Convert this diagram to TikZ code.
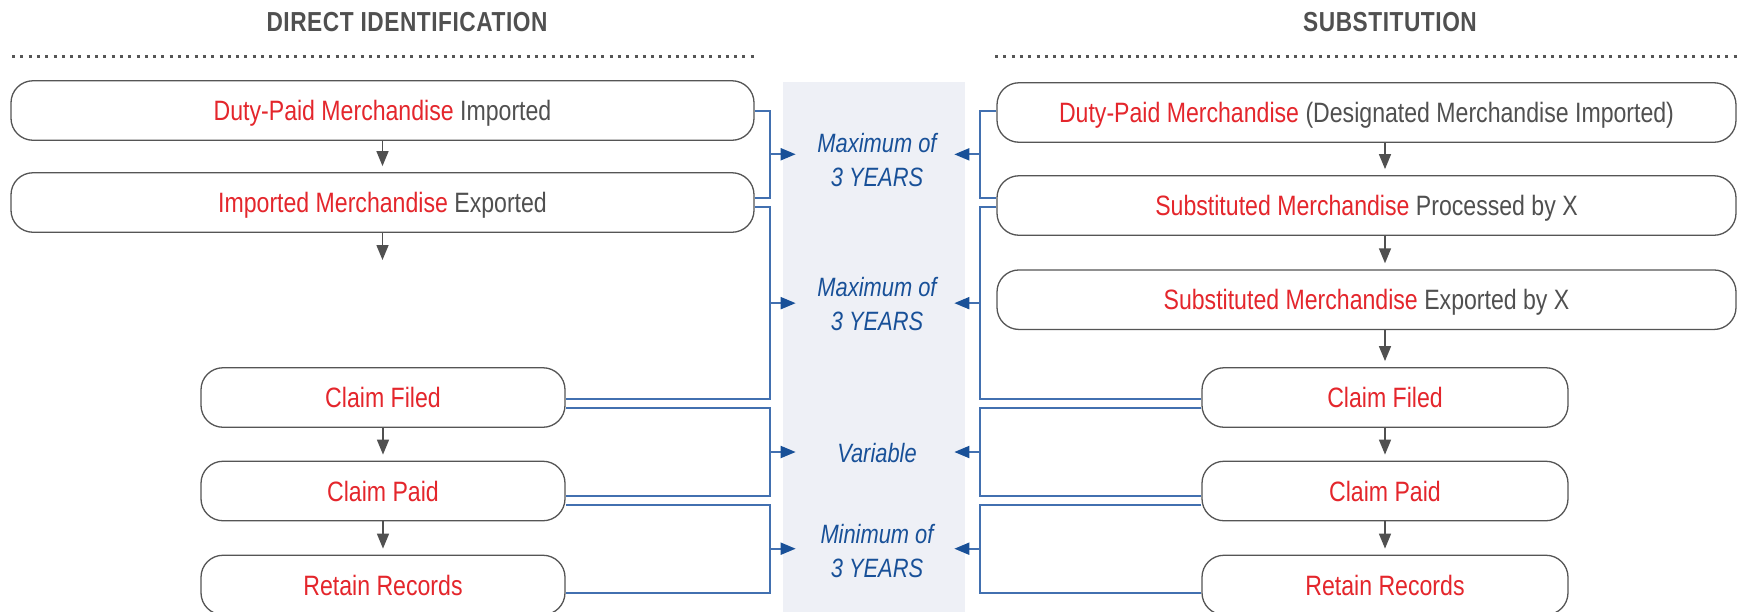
\documentclass[tikz,border=0pt]{standalone}
\usepackage{fontspec}
\setmainfont{Liberation Sans}[FakeStretch=0.825]
\usetikzlibrary{arrows.meta}

\definecolor{keyred}{RGB}{228,38,44}
\definecolor{inkgray}{RGB}{80,80,80}
\definecolor{rulegray}{RGB}{85,85,85}
\definecolor{panelgray}{RGB}{238,240,246}
\definecolor{linkblue}{RGB}{66,112,176}
\definecolor{spanblue}{RGB}{24,80,152}

\newcommand{\redpart}[1]{\textcolor{keyred}{#1}}

\tikzset{
  stepbox/.style={draw=rulegray, line width=1.3pt, fill=white, rounded corners=22pt,
    minimum height=59.5pt, inner sep=0pt, text height=20pt, text depth=0pt,
    text=inkgray, font=\fontsize{28}{30}\selectfont},
  flow/.style={draw=inkgray, line width=1.5pt, -{Triangle[length=15pt,width=12pt]}, shorten >=6pt},
  bracket/.style={draw=linkblue, line width=2pt},
  spanarrow/.style={draw=linkblue, line width=2pt, -{Triangle[length=15pt,width=12pt,color=spanblue]}},
  spanlabel/.style={text=spanblue, align=center, font=\fontsize{26.5}{34}\selectfont\itshape},
  heading/.style={text=inkgray, font=\fontsize{27.5}{30}\selectfont\bfseries\addfontfeatures{LetterSpace=2}},
  dotrule/.style={draw=rulegray, line width=3pt, dash pattern=on 3pt off 5.3pt}
}

\begin{document}
\begin{tikzpicture}[x=1pt, y=-1pt]
    \useasboundingbox (0,0) rectangle (1738,611);

    % Time band in the middle
    \fill[panelgray] (783,82) rectangle (965,620);

    % Headings
    \node[heading] (dihead) at (407,22) {DIRECT IDENTIFICATION};
    \node[heading] (subhead) at (1390,22) {SUBSTITUTION};
    \draw[dotrule] (12,56) -- (757,56);
    \draw[dotrule] (995,56) -- (1740,56);

    % Direct identification column
    \node[stepbox, minimum width=743pt] (dimp) at (382.5,110.5) {\redpart{Duty-Paid Merchandise} Imported};
    \node[stepbox, minimum width=743pt] (dexp) at (382.5,202.5) {\redpart{Imported Merchandise} Exported};
    \coordinate (dgap) at (382.5,266);
    \node[stepbox, minimum width=364pt] (dfiled) at (383,397.5) {\redpart{Claim Filed}};
    \node[stepbox, minimum width=364pt] (dpaid) at (383,491) {\redpart{Claim Paid}};
    \node[stepbox, minimum width=364pt] (dkeep) at (383,585) {\redpart{Retain Records}};

    \draw[flow] (dimp) -- (dexp);
    \draw[flow] (dexp) -- (dgap);
    \draw[flow] (dfiled) -- (dpaid);
    \draw[flow] (dpaid) -- (dkeep);

    % Substitution column
    \node[stepbox, minimum width=739pt] (simp) at (1366.5,112.5) {\redpart{Duty-Paid Merchandise} (Designated Merchandise Imported)};
    \node[stepbox, minimum width=739pt] (sproc) at (1366.5,205.5) {\redpart{Substituted Merchandise} Processed by X};
    \node[stepbox, minimum width=739pt] (sexp) at (1366.5,299.7) {\redpart{Substituted Merchandise} Exported by X};
    \node[stepbox, minimum width=366pt] (sfiled) at (1385,397.5) {\redpart{Claim Filed}};
    \node[stepbox, minimum width=366pt] (spaid) at (1385,491) {\redpart{Claim Paid}};
    \node[stepbox, minimum width=366pt] (skeep) at (1385,585) {\redpart{Retain Records}};

    \draw[flow] (simp.south -| sfiled) -- (sproc.north -| sfiled);
    \draw[flow] (sproc.south -| sfiled) -- (sexp.north -| sfiled);
    \draw[flow] (sexp.south -| sfiled) -- (sfiled);
    \draw[flow] (sfiled) -- (spaid);
    \draw[flow] (spaid) -- (skeep);

    % Brackets on the left
    \draw[bracket] (dimp.east) -- ++(15,0) |- ([yshift=4.5pt]dexp.east) coordinate[pos=0.25] (lja);
    \draw[bracket] ([yshift=-4.5pt]dexp.east) -- ++(15,0) |- ([yshift=-1.8pt]dfiled.east) coordinate[pos=0.25] (ljb);
    \draw[bracket] ([yshift=-10.8pt]dfiled.east) -- ++(204,0) |- ([yshift=-4.7pt]dpaid.east) coordinate[pos=0.25] (ljc);
    \draw[bracket] ([yshift=-13.7pt]dpaid.east) -- ++(204,0) |- ([yshift=-7.7pt]dkeep.east) coordinate[pos=0.25] (ljd);

    % Brackets on the right
    \draw[bracket] ([yshift=1.8pt]simp.west) -- ++(-16,0) |- ([yshift=7.5pt]sproc.west) coordinate[pos=0.25] (rja);
    \draw[bracket] ([yshift=-1.5pt]sproc.west) -- ++(-16,0) |- ([yshift=-1.8pt]sfiled.west) coordinate[pos=0.25] (rjb);
    \draw[bracket] ([yshift=-10.8pt]sfiled.west) -- ++(-221,0) |- ([yshift=-4.7pt]spaid.west) coordinate[pos=0.25] (rjc);
    \draw[bracket] ([yshift=-13.7pt]spaid.west) -- ++(-221,0) |- ([yshift=-7.7pt]skeep.west) coordinate[pos=0.25] (rjd);

    % Time spans
    \node[spanlabel] (spana) at (877,160) {Maximum of\\3 YEARS};
    \node[spanlabel] (spanb) at (877,304.5) {Maximum of\\3 YEARS};
    \node[spanlabel] (spanc) at (877,453) {Variable};
    \node[spanlabel] (spand) at (877,551.5) {Minimum of\\3 YEARS};

    \foreach \j in {a,b,c,d} {
        \draw[spanarrow] (lj\j) -- ++(26,0);
        \draw[spanarrow] (rj\j) -- ++(-26,0);
    }
\end{tikzpicture}
\end{document}
